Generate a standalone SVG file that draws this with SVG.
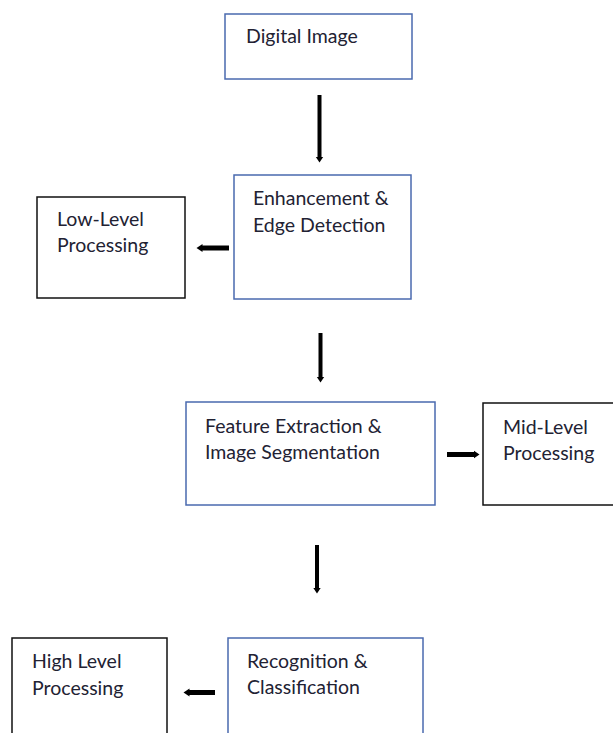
<svg xmlns="http://www.w3.org/2000/svg" width="613" height="733" viewBox="0 0 613 733">
<defs>
<style>
.blue{fill:#fff;stroke:#4a6aaf;stroke-width:1.5}
.black{fill:#fff;stroke:#111;stroke-width:1.5}
text{font-family:Lato,"Liberation Sans",sans-serif;font-size:19.5px;fill:#222233}
.conn{stroke:#000;fill:none}
</style>
<marker id="ah" markerUnits="userSpaceOnUse" markerWidth="10" markerHeight="10" refX="0.5" refY="5" orient="auto">
<path d="M0,1 L6,5 L0,9 Z" fill="#000"/>
</marker>
</defs>
<rect width="613" height="733" fill="#fff"/>
<g id="n-digital">
<rect class="blue" x="225" y="14" width="187" height="65"/>
<text x="246" y="43">Digital Image</text>
</g>
<g id="n-enh">
<rect class="blue" x="234" y="175" width="177" height="124"/>
<text x="253" y="205">Enhancement &amp;</text>
<text x="253" y="232">Edge Detection</text>
</g>
<g id="n-low">
<rect class="black" x="37" y="197" width="148" height="101"/>
<text x="57" y="226">Low-Level</text>
<text x="57" y="252">Processing</text>
</g>
<g id="n-feat">
<rect class="blue" x="186" y="402" width="249" height="103"/>
<text x="205" y="433">Feature Extraction &amp;</text>
<text x="205" y="459">Image Segmentation</text>
</g>
<g id="n-mid">
<rect class="black" x="483" y="403" width="140" height="102"/>
<text x="503" y="434">Mid-Level</text>
<text x="503" y="460">Processing</text>
</g>
<g id="n-rec">
<rect class="blue" x="228" y="638" width="195" height="110"/>
<text x="247" y="668">Recognition &amp;</text>
<text x="247" y="694">Classification</text>
</g>
<g id="n-high">
<rect class="black" x="12" y="638" width="155" height="110"/>
<text x="32" y="668">High Level</text>
<text x="32" y="695">Processing</text>
</g>
<g id="connectors">
<line class="conn" x1="319.5" y1="95" x2="319.5" y2="157" stroke-width="4" marker-end="url(#ah)"/>
<line class="conn" x1="229" y1="248" x2="202" y2="248" stroke-width="5" marker-end="url(#ah)"/>
<line class="conn" x1="320.5" y1="333" x2="320.5" y2="377" stroke-width="4" marker-end="url(#ah)"/>
<line class="conn" x1="447" y1="454.5" x2="474" y2="454.5" stroke-width="5" marker-end="url(#ah)"/>
<line class="conn" x1="317" y1="545" x2="317" y2="588" stroke-width="4" marker-end="url(#ah)"/>
<line class="conn" x1="215" y1="692.5" x2="189" y2="692.5" stroke-width="5" marker-end="url(#ah)"/>
</g>
</svg>
